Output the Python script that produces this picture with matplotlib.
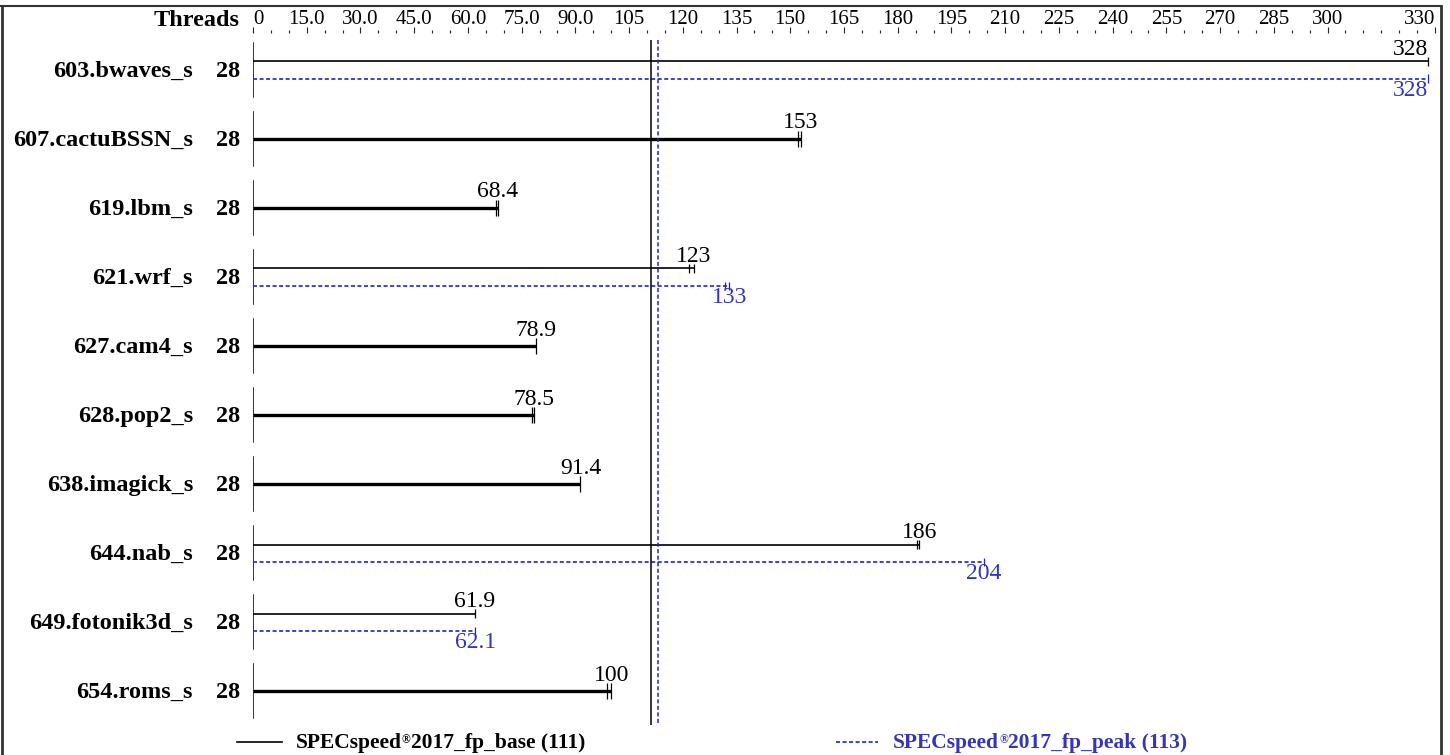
import numpy as np
import matplotlib
matplotlib.use("Agg")
import matplotlib.pyplot as plt
from matplotlib.lines import Line2D

# benchmark data
benchmarks = ["603.bwaves_s", "607.cactuBSSN_s", "619.lbm_s", "621.wrf_s",
              "627.cam4_s", "628.pop2_s", "638.imagick_s", "644.nab_s",
              "649.fotonik3d_s", "654.roms_s"]
threads = [28, 28, 28, 28, 28, 28, 28, 28, 28, 28]
base = [328, 153, 68.4, 123, 78.9, 78.5, 91.4, 186, 61.9, 100]
base_low = [328, 152.2, 67.9, 121.7, 78.9, 77.9, 91.4, 185.3, 61.9, 98.9]
peak = [328, None, None, 133, None, None, None, 204, 62.1, None]
peak_low = [328, None, None, 131.9, None, None, None, 204, 62.1, None]
base_mean = 111
peak_mean = 113
major_ticks = [0, 15, 30, 45, 60, 75, 90, 105, 120, 135, 150, 165, 180, 195,
               210, 225, 240, 255, 270, 285, 300, 330]
major_labels = ["0", "15.0", "30.0", "45.0", "60.0", "75.0", "90.0", "105",
                "120", "135", "150", "165", "180", "195", "210", "225", "240",
                "255", "270", "285", "300", "330"]

BLUE = "#2323c3"
BLUE_TXT = "#3535b5"
W, H = 1450, 755

plt.rcParams["font.family"] = ["Liberation Serif", "DejaVu Serif"]
plt.rcParams["lines.scale_dashes"] = False
DASH = (2.9, 1.8)

fig = plt.figure(figsize=(W / 100, H / 100), dpi=100)
ax = fig.add_axes([253 / W, 1 - 725 / H, (1435 - 253) / W, (725 - 33) / H])

ax.set_xlim(0, 330)
ax.set_ylim(9.49, -0.536)
for s in ax.spines.values():
    s.set_visible(False)
ax.set_yticks([])
ax.xaxis.tick_top()
ax.set_xticks(major_ticks)
ax.set_xticklabels(major_labels, fontsize=15)
ax.set_xticks(np.arange(0, 331, 5), minor=True)
ax.tick_params(axis="x", which="major", length=4.3, width=0.8, pad=-1.5,
               color="#222222")
ax.tick_params(axis="x", which="minor", length=2.0, width=0.8,
               color="#222222")
tl = ax.get_xticklabels()
tl[0].set_ha("left")
tl[-1].set_ha("right")

off = 0.125  # base/peak separation in row units


def end_caps(x_hi, x_lo, y, color, h, lw):
    for xv in sorted(set([x_hi, x_lo])):
        ax.plot([xv, xv], [y - h, y + h], color=color, lw=lw,
                solid_capstyle="butt")


def place_label(x, y, txt, color, va, dy):
    ha = "center"
    if x > 320:
        ha = "right"
    ax.annotate(txt, (x, y), xytext=(0, dy), textcoords="offset points",
                ha=ha, va=va, fontsize=17, color=color)


for i, name in enumerate(benchmarks):
    # row separator at x=0
    ax.plot([0, 0], [i - 0.39, i + 0.39], color="black", lw=1.1)
    ax.annotate(name, (0, i), xytext=(-60, -7), textcoords="offset pixels",
                ha="right", va="baseline", fontsize=17.5, fontweight="bold")
    ax.annotate(str(threads[i]), (0, i), xytext=(-13, -7),
                textcoords="offset pixels", ha="right", va="baseline",
                fontsize=17.5, fontweight="bold")
    if peak[i] is None:
        ax.plot([0, base[i]], [i, i], color="black", lw=2.4,
                solid_capstyle="butt")
        end_caps(base[i], base_low[i], i, "black", 0.12, 0.9)
        place_label(base[i], i, f"{base[i]:g}", "black", "bottom", 4)
    else:
        yb, yp = i - off, i + off
        ax.plot([0, base[i]], [yb, yb], color="black", lw=1.2,
                solid_capstyle="butt")
        end_caps(base[i], base_low[i], yb, "black", 0.065, 0.9)
        place_label(base[i], yb, f"{base[i]:g}", "black", "bottom", 1)
        ax.plot([0, peak[i]], [yp, yp], color=BLUE, lw=1.2, dashes=DASH)
        end_caps(peak[i], peak_low[i], yp, BLUE, 0.06, 0.9)
        place_label(peak[i], yp, f"{peak[i]:g}", BLUE_TXT, "top", -1)

# mean lines
ax.vlines(base_mean, -0.44, 9.49, color="black", lw=1.1)
ax.vlines(peak_mean, -0.44, 9.49, color=BLUE, lw=1.1, linestyles=[(0, DASH)])

fig.text(240 / W, 1 - 26 / H, "Threads", ha="right", va="baseline",
         fontsize=17.5, fontweight="bold")

# legend drawn by hand
renderer = fig.canvas.get_renderer()


def rich_text(x_px, y_px, pieces, color):
    x = x_px
    for txt, size, rise in pieces:
        t = fig.text(x / W, 1 - (y_px - rise) / H, txt, ha="left",
                     va="baseline", fontsize=size, fontweight="bold",
                     color=color)
        x += t.get_window_extent(renderer).width


leg_y = 742
fig.add_artist(Line2D([237 / W, 282 / W], [1 - leg_y / H] * 2,
                      color="black", lw=1.2))
rich_text(296, 748, [("SPECspeed", 15.5, 0), ("®", 8.5, 5),
                     ("2017_fp_base (111)", 15.5, 0)], "black")
fig.add_artist(Line2D([836 / W, 878 / W], [1 - leg_y / H] * 2,
                      color=BLUE, lw=1.2, dashes=DASH))
rich_text(893, 748, [("SPECspeed", 15.5, 0), ("®", 8.5, 5),
                     ("2017_fp_peak (113)", 15.5, 0)], BLUE_TXT)

# outer frame
fc = "#333333"
fig.add_artist(Line2D([0, 1441 / W], [1 - 6 / H] * 2, color=fc, lw=1.5))
fig.add_artist(Line2D([1.5 / W] * 2, [0, 1 - 6 / H], color=fc, lw=2))
fig.add_artist(Line2D([1441 / W] * 2, [0, 1 - 6 / H], color=fc, lw=2))

fig.savefig("out.png", dpi=100)
